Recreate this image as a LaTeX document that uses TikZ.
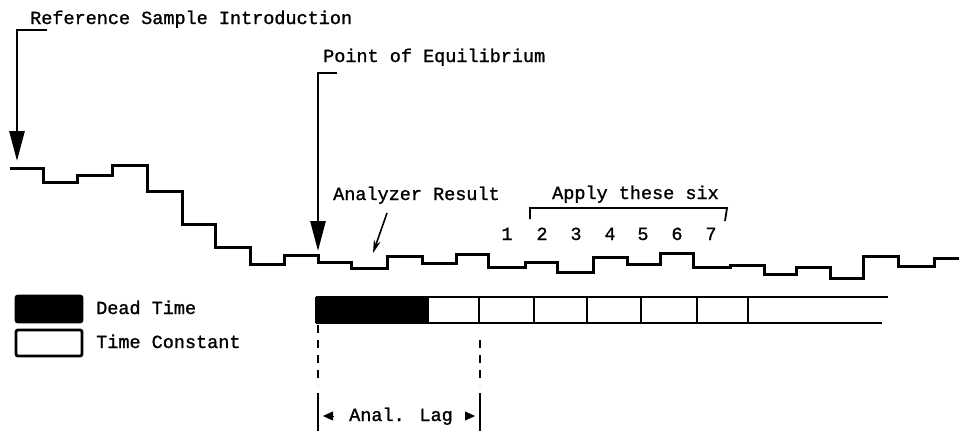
\documentclass[tikz,border=0pt]{standalone}
\usepackage{fontspec}
\setmainfont{Liberation Mono}[FakeBold=1.2]
\usetikzlibrary{arrows.meta,positioning}

\begin{document}
\begin{tikzpicture}[
    x=1pt, y=-1pt,
    lbl/.style={anchor=base west, inner sep=0pt, font=\fontsize{18.5}{20}\selectfont},
    num/.style={anchor=base, inner sep=0pt, font=\fontsize{18.5}{20}\selectfont},
    trace/.style={line width=3pt, line join=miter},
    bigarrow/.style={line width=2.8pt, -{Triangle[width=15pt,length=30pt]}},
    thinarrow/.style={line width=1.6pt, -{Stealth[width=7pt,length=13pt]}},
    lagtip/.style={-{Triangle[width=9pt,length=10pt]}},
    bar/.style={line width=2.6pt},
    lagline/.style={line width=2.4pt},
    keybox/.style={draw, line width=2.8pt, rounded corners=2pt, minimum width=66pt, minimum height=26pt, inner sep=0pt},
]
\useasboundingbox (0,0) rectangle (959,431);

% labels
\node[lbl] (refintro) at (30,24) {Reference Sample Introduction};
\node[lbl] (equil) at (323,62) {Point of Equilibrium};
\node[lbl] (result) at (333,200) {Analyzer Result};
\node[lbl] (applysix) at (552,199) {Apply these six};

% step trace
\draw[trace] (10,168)
  foreach \x/\y in {43/182, 77/175, 112/165, 147/191, 182/224, 215/247,
    250/264, 284/255, 318/262, 351/268, 387/256, 422/263, 456/254,
    488/267, 525/262, 557/272, 593/257, 627/264, 660/253, 693/267,
    730/265, 764/274, 796/267, 830/278, 863/256, 898/266, 934/258}
  { -| (\x,\y) } -- (959,258);

% arrows onto the trace
\coordinate (reftick) at (47,30);
\coordinate (reftip) at (17,161);
\coordinate (eqtick) at (337,73);
\coordinate (eqtip) at (318,251);
\coordinate (restail) at (387,213);
\coordinate (restip) at (373,253);
\draw[bigarrow] (reftick) -| (reftip);
\draw[bigarrow] (eqtick) -| (eqtip);
\draw[thinarrow] (restail) -- (restip);

% step numbers and bracket
\foreach \n/\x in {1/507, 2/542, 3/576, 4/610, 5/643, 6/677, 7/711}
  \node[num] (n\n) at (\x,240) {\n};
\coordinate (brl) at (530,219);
\coordinate (brr) at (725,221);
\draw[line width=1.8pt] (brl) |- (727,208) -- (brr);

% legend
\node[keybox, fill=black] (deadkey) at (49,309) {};
\node[keybox, fill=white] (tckey) at (49,343) {};
\node[lbl] (deadtxt) at (96,314) {Dead Time};
\node[lbl] (tctxt) at (96,348) {Time Constant};

% time bar
\fill (316,296) rectangle (428,323);
\draw[bar] (316,297) -- (888,297);
\draw[bar] (316,323) -- (882,323);
\foreach \x in {316,428,479,534,587,641,697,748}
  \draw[bar] (\x,297) -- (\x,323);

% analyzer lag
\node[lbl] (lag) at (349,421) {Anal. Lag};
\coordinate (lagL) at (323,416);
\coordinate (lagR) at (475,416);
\draw[lagline, dash pattern=on 8pt off 7pt] (318,325) -- (318,385);
\draw[lagline] (318,393) -- (318,431);
\draw[lagline, dash pattern=on 8pt off 7pt] (480,340) -- (480,385);
\draw[lagline] (480,393) -- (480,431);
\draw[lagtip] ([xshift=10pt]lagL) -- (lagL);
\draw[lagtip] ([xshift=-10pt]lagR) -- (lagR);
\end{tikzpicture}
\end{document}
